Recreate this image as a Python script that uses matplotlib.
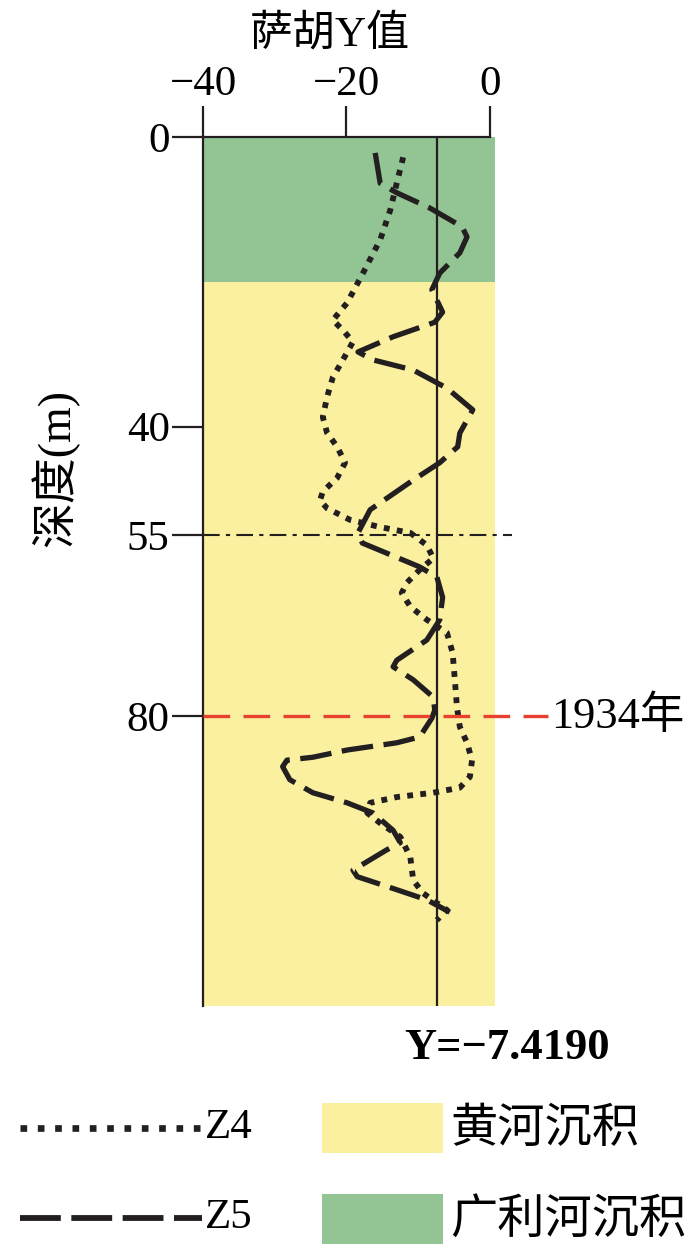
import numpy as np
import matplotlib
matplotlib.use('Agg')
from matplotlib import pyplot as plt
from matplotlib.patches import Rectangle

# Z5 (dashed) : Sahu Y value vs depth (m)
z5_y = [-16.0, -15.3, -13.0, -8.4, -3.9, -3.2, -4.2, -7.0, -8.1, -6.6, -7.7, -13.5,
        -18.4, -16.3, -10.7, -6.0, -2.4, -4.2, -4.5, -7.0, -10.7, -16.7, -18.4, -17.8,
        -14.4, -9.8, -7.4, -6.6, -7.0, -8.8, -13.0, -13.5, -10.7, -7.9, -7.7, -8.1,
        -9.8, -13.0, -19.9, -24.7, -28.3, -28.9, -27.9, -24.7, -19.9, -16.3, -13.5,
        -12.5, -14.4, -19.1, -18.5, -13.0, -8.8, -5.6]
z5_depth = [2.2, 6.4, 7.7, 9.8, 12.4, 13.8, 16.0, 18.8, 21.1, 24.2, 25.6, 27.6,
            29.7, 30.8, 32.2, 34.7, 37.7, 40.9, 42.8, 45.0, 47.4, 51.5, 54.7, 56.1,
            57.5, 59.4, 60.8, 63.6, 66.7, 69.5, 72.3, 73.2, 75.0, 77.4, 79.2, 80.3,
            82.9, 83.7, 84.7, 85.7, 86.1, 87.0, 88.8, 90.6, 92.0, 93.4, 95.8,
            97.5, 98.5, 101.3, 102.2, 104.0, 105.4, 107.1]

# Z4 (dotted)
z4_y = [-12.1, -13.0, -13.9, -15.3, -17.7, -19.9, -21.9, -20.5, -19.1, -20.5, -21.9,
        -22.7, -23.3, -22.7, -21.3, -20.2, -21.3, -23.3, -23.7, -22.7, -19.5, -15.3,
        -11.1, -8.8, -7.9, -9.8, -11.6, -12.3, -11.1, -8.8, -6.0, -5.2, -4.9, -4.6,
        -4.2, -3.2, -2.5, -2.8, -4.2, -7.9, -13.0, -16.7, -17.1, -15.3, -12.5, -11.1,
        -10.7, -9.3, -6.6, -6.0, -7.4]
z4_depth = [2.8, 6.4, 10.1, 14.2, 18.8, 22.9, 25.3, 26.7, 28.3, 30.8, 33.2,
            35.9, 38.7, 40.9, 42.8, 45.0, 47.1, 49.0, 50.2, 51.3, 52.9, 53.9,
            54.7, 56.4, 58.2, 59.8, 61.6, 63.0, 64.9, 66.7, 68.5, 71.3, 75.0, 78.8,
            81.5, 83.7, 86.1, 88.4, 89.9, 90.6, 91.2, 92.0, 93.4, 94.8, 96.7, 99.5,
            102.7, 104.5, 106.4, 106.8, 108.2]

layer_top = [0, 20]
layer_bottom = [20, 120]
layer_names = ['广利河沉积', '黄河沉积']
layer_colors = ['#93c494', '#faf0a0']

y_threshold = -7.4190
depth_ticks = [0, 40, 55, 80]
x_ticks = [-40, -20, 0]
x_tick_labels = ['\u221240', '\u221220', '0']

fonts = ['Liberation Serif', 'Noto Sans CJK SC']
ink = '#231f20'
dots = (0, (1, 1.25))

W, H = 700, 1255
fig = plt.figure(figsize=(W / 100, H / 100), dpi=100)
ax = fig.add_axes([203 / W, 1 - 1005.5 / H, 292 / W, 868.5 / H])

for t, b, c in zip(layer_top, layer_bottom, layer_colors):
    ax.axhspan(t, b, color=c, lw=0, zorder=0)

ax.axvline(y_threshold, color=ink, lw=1.6, zorder=2)

ax.plot(z4_y, z4_depth, color=ink, lw=4.2, linestyle=dots,
        dash_capstyle='butt', zorder=3)
ax.plot(z5_y, z5_depth, color=ink, lw=3.8, linestyle=(0, (6, 2)),
        dash_capstyle='butt', solid_joinstyle='round', zorder=4)

# 55 m dash-dot and 1934 red dashed marker
ax.plot([-40, 3.1], [55, 55], color=ink, lw=1.5, linestyle=(0, (8, 3, 2, 3)),
        clip_on=False, zorder=5)
ax.plot([-40, 8.1], [80, 80], color='#e8412e', lw=2.4, linestyle=(0, (8, 4)),
        clip_on=False, zorder=5)
ax.text(8.5, 80, '1934年', family=fonts, fontsize=32, va='center', ha='left')

ax.set_xlim(-40, 0.7)
ax.set_ylim(120, 0)

for s in ['right', 'bottom']:
    ax.spines[s].set_visible(False)
ax.spines['top'].set_bounds(-40, 0)
for s in ['top', 'left']:
    ax.spines[s].set_linewidth(1.6)
    ax.spines[s].set_color(ink)

ax.xaxis.tick_top()
ax.set_xticks(x_ticks)
ax.set_xticklabels(x_tick_labels, family=fonts, fontsize=31)
ax.set_yticks(depth_ticks)
ax.set_yticklabels([str(d) for d in depth_ticks], family=fonts, fontsize=31)
ax.tick_params(axis='both', direction='out', length=22, width=1.6, color=ink, pad=2)

fig.text(330 / W, 1 - 35 / H, '萨胡Y值', family=fonts, fontsize=31,
         ha='center', va='center')
fig.text(55 / W, 1 - 468 / H, '深度(m)', family=fonts, fontsize=33,
         rotation=90, ha='center', va='center')
fig.text(507 / W, 1 - 1048 / H, 'Y=\u22127.4190', family=fonts, fontsize=32,
         weight='bold', ha='center', va='center')

# legend drawn on a full-figure overlay
lax = fig.add_axes([0, 0, 1, 1])
lax.set_xlim(0, W)
lax.set_ylim(H, 0)
lax.axis('off')
lax.plot([20, 202], [1128, 1128], color=ink, lw=4.8, linestyle=(0, (1, 1.6)),
         dash_capstyle='butt')
lax.text(205, 1128, 'Z4', family=fonts, fontsize=31, va='center', ha='left')
lax.plot([20, 202], [1218, 1218], color=ink, lw=4.2, linestyle=(0, (7, 1.8)),
         dash_capstyle='butt')
lax.text(205, 1218, 'Z5', family=fonts, fontsize=31, va='center', ha='left')

for (py, name, c) in [(1103, layer_names[1], layer_colors[1]),
                      (1194, layer_names[0], layer_colors[0])]:
    lax.add_patch(Rectangle((322, py), 121, 50, color=c, lw=0))
    lax.text(450, py + 27, name, family=fonts, fontsize=34, va='center', ha='left')

fig.savefig('out.png', dpi=100)
